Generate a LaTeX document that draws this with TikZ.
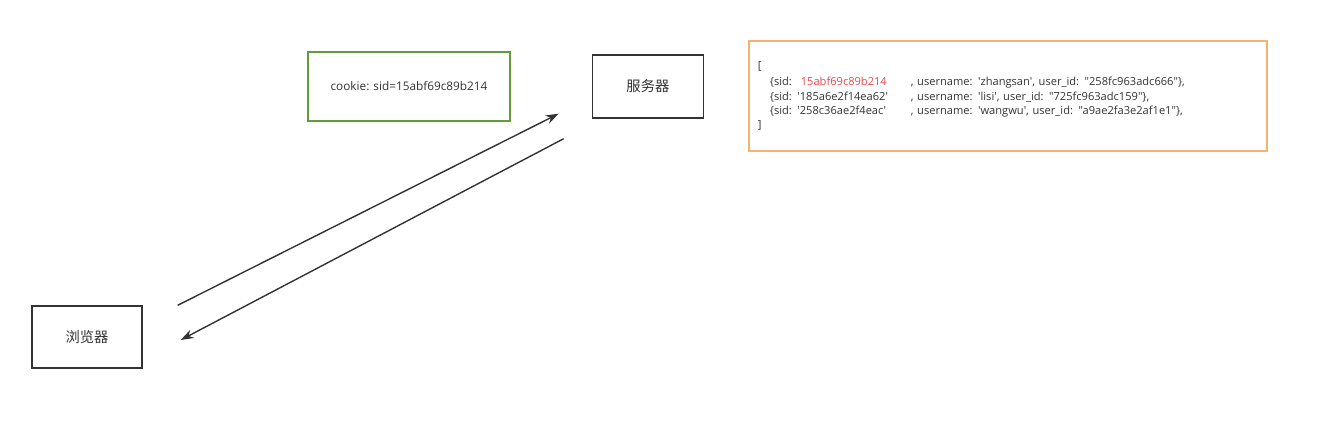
\documentclass[tikz,border=0pt]{standalone}
\usepackage{fontspec}
\setmainfont[Ligatures=TeXOff]{Open Sans}
\newfontfamily\cjkfont{Noto Sans CJK SC}
\usetikzlibrary{positioning,arrows.meta}
\definecolor{linegray}{RGB}{51,51,51}
\definecolor{cookiegreen}{RGB}{98,156,58}
\definecolor{dataorange}{RGB}{245,178,112}
\definecolor{sidred}{RGB}{234,72,78}
\newcommand{\sidcol}[1]{\makebox[141pt][l]{#1}}

\begin{document}
\begin{tikzpicture}[x=1pt,y=1pt,
    hostbox/.style={draw=linegray,line width=1.4pt,minimum width=110pt,minimum height=62pt,
      inner sep=0pt,text=linegray,font=\cjkfont\fontsize{14.3}{16}\selectfont},
    cookiebox/.style={draw=cookiegreen,line width=1.4pt,minimum width=202pt,minimum height=69pt,
      inner sep=0pt,text=linegray,font=\fontsize{11.8}{14}\selectfont},
    databox/.style={draw=dataorange,line width=1.4pt,minimum height=110pt,text width=500pt,
      inner xsep=9pt,inner ysep=0pt,align=left,text=linegray,font=\fontsize{11.1}{14.4}\selectfont},
    req/.style={draw=linegray,line width=1.4pt,-{Stealth[length=13pt,width=9pt]}}]
  \useasboundingbox (0,0) rectangle (1337,435);
  \node[hostbox] (browser) at (87,98) {浏览器};
  \node[hostbox,minimum width=111pt,minimum height=63pt,right=449pt of browser,yshift=250.5pt] (server) {服务器};
  \node[cookiebox,left=81pt of server] (cookie) {cookie: sid=15abf69c89b214};
  \node[databox,right=44pt of server,yshift=-9.5pt] (store) {%
    \vspace*{2pt}[\\
    \hspace*{12pt}\sidcol{\{sid:\hspace{9pt}\textcolor{sidred}{15abf69c89b214}}, username: 'zhangsan', user\_id: "258fc963adc666"\},\\
    \hspace*{12pt}\sidcol{\{sid: '185a6e2f14ea62'}, username: 'lisi', user\_id: "725fc963adc159"\},\\
    \hspace*{12pt}\sidcol{\{sid: '258c36ae2f4eac'}, username: 'wangwu', user\_id: "a9ae2fa3e2af1e1"\},\\
    ]};
  %% arrow ends
  \coordinate (b1) at ([xshift=35pt]browser.north east);
  \coordinate (b2) at ([xshift=38pt,yshift=-3pt]browser.east);
  \coordinate (s1) at ([xshift=-33pt,yshift=5pt]server.south west);
  \coordinate (s2) at ([xshift=-28pt,yshift=-20pt]server.south west);
  %% request and response
  \draw[req] (b1) -- (s1);
  \draw[req] (s2) -- (b2);
\end{tikzpicture}
\end{document}
